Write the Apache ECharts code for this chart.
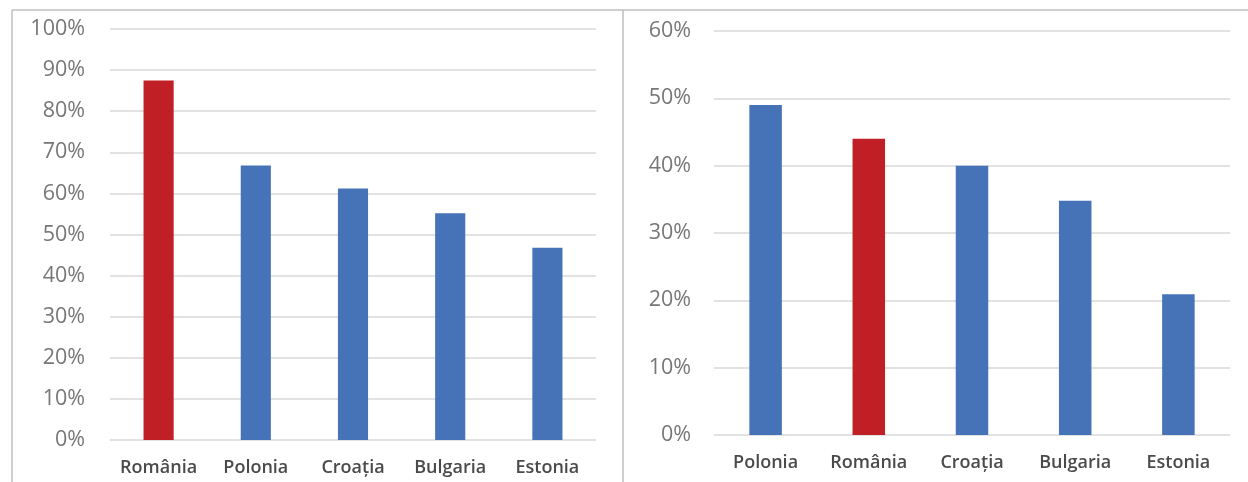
<!DOCTYPE html>
<html>
<head>
<meta charset="utf-8">
<script src="https://cdn.jsdelivr.net/npm/echarts@6/dist/echarts.min.js"></script>
<style>
  html, body { margin: 0; padding: 0; background: #ffffff; }
  #chart { width: 1248px; height: 482px; }
</style>
</head>
<body>
<div id="chart"></div>
<script>
// Left panel: share by country (0–100%)
const leftCategories = ['România', 'Polonia', 'Croația', 'Bulgaria', 'Estonia'];
const leftValues = [87.5, 66.8, 61.2, 55.2, 46.8];
const leftTicks = { min: 0, max: 100, interval: 10 };

// Right panel: share by country (0–60%)
const rightCategories = ['Polonia', 'România', 'Croația', 'Bulgaria', 'Estonia'];
const rightValues = [49.0, 44.0, 40.0, 34.8, 20.9];
const rightTicks = { min: 0, max: 60, interval: 10 };

const highlighted = 'România';
const BLUE = '#4672B8';
const RED = '#C01F26';
const FONT = '"Open Sans", "Noto Sans", sans-serif';

function barData(cats, vals) {
  return vals.map((v, i) => ({
    value: v,
    itemStyle: { color: cats[i] === highlighted ? RED : BLUE }
  }));
}

function xAxis(idx, cats) {
  return {
    type: 'category', gridIndex: idx, data: cats,
    axisLine: { show: false }, axisTick: { show: false },
    axisLabel: { interval: 0, hideOverlap: false, color: '#4a4a4a', fontSize: 18, fontWeight: 600, fontFamily: FONT, margin: 19 }
  };
}

function yAxis(idx, t, margin) {
  return {
    type: 'value', gridIndex: idx, min: t.min, max: t.max, interval: t.interval,
    axisLine: { show: false }, axisTick: { show: false },
    axisLabel: { color: '#777777', fontSize: 21.5, fontFamily: FONT, margin: margin, formatter: '{value}%' },
    splitLine: { show: true, lineStyle: { color: '#d9d9d9', width: 1.5 } }
  };
}

const chart = echarts.init(document.getElementById('chart'), null, { renderer: 'canvas' });

const frame = { stroke: '#bfbfbf', lineWidth: 1.5 };

chart.setOption({
  animation: false,
  backgroundColor: '#ffffff',
  grid: [
    { left: 110, right: 652, top: 29, bottom: 42 },
    { left: 714, right: 18, top: 31, bottom: 47 }
  ],
  xAxis: [xAxis(0, leftCategories), xAxis(1, rightCategories)],
  yAxis: [yAxis(0, leftTicks, 25), yAxis(1, rightTicks, 23)],
  series: [
    { type: 'bar', xAxisIndex: 0, yAxisIndex: 0, barWidth: '31%', data: barData(leftCategories, leftValues) },
    { type: 'bar', xAxisIndex: 1, yAxisIndex: 1, barWidth: '31.5%', data: barData(rightCategories, rightValues) }
  ],
  graphic: [
    { type: 'line', shape: { x1: 12, y1: 10, x2: 1248, y2: 10 }, style: frame, silent: true },
    { type: 'line', shape: { x1: 12, y1: 10, x2: 12, y2: 482 }, style: frame, silent: true },
    { type: 'line', shape: { x1: 623, y1: 10, x2: 623, y2: 482 }, style: frame, silent: true }
  ]
});
</script>
</body>
</html>
